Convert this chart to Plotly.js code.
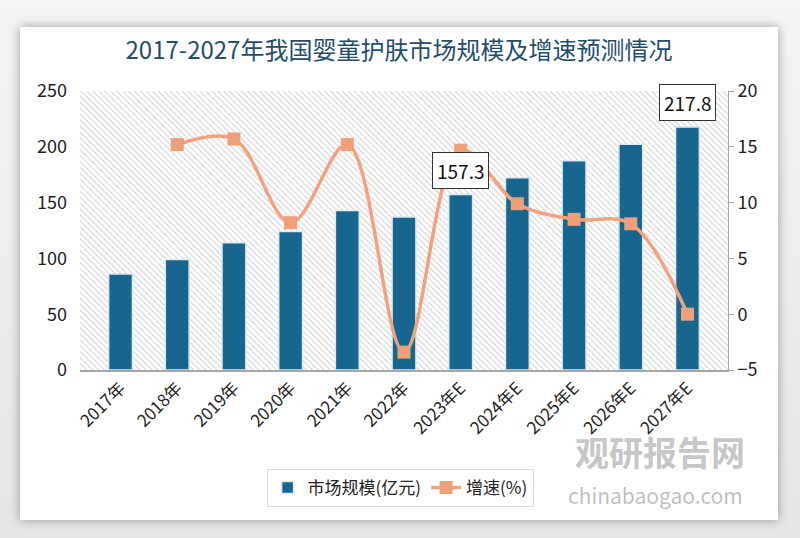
<!DOCTYPE html>
<html>
<head>
<meta charset="utf-8">
<script src="https://cdn.plot.ly/plotly-3.0.1.min.js"></script>
<style>
  html, body { margin:0; padding:0; width:800px; height:538px; overflow:hidden;
    background: linear-gradient(#f4f4f4, #e6e6e6); }
  #card { position:absolute; left:20px; top:27px; width:758px; height:493px;
    background:#fff; box-shadow: 0 0 10px rgba(0,0,0,0.35); }
  #chart { width:758px; height:493px; }
</style>
</head>
<body>
<div id="card"><div id="chart"></div></div>
<script>
const categories = ['2017年','2018年','2019年','2020年','2021年','2022年','2023年E','2024年E','2025年E','2026年E','2027年E'];
const marketSize = [86, 99, 114, 124, 143, 137, 157.3, 172.3, 187.6, 202.2, 217.8];
const growthRate = [null, 15.2, 15.7, 8.2, 15.2, -3.4, 14.7, 9.9, 8.5, 8.1, 0];
const labeledIdx = [6, 10];

const CJK = '"Noto Sans CJK SC", "Noto Sans", sans-serif';

const stripeSvg = '<svg xmlns="http://www.w3.org/2000/svg" width="648" height="279">' +
  '<defs><pattern id="p" width="4.2" height="4.2" patternUnits="userSpaceOnUse" patternTransform="rotate(-45)">' +
  '<rect width="4.2" height="4.2" fill="#ffffff"/><rect x="0" y="0" width="1.2" height="4.2" fill="#d8d8d8"/></pattern></defs>' +
  '<rect width="648" height="279" fill="url(#p)"/></svg>';
const stripeUri = 'data:image/svg+xml;charset=utf-8,' + encodeURIComponent(stripeSvg);

const traces = [
  {
    type: 'bar', name: '市场规模(亿元)', x: categories, y: marketSize,
    marker: { color: '#17668f', line: { color: '#dce9f0', width: 1.5 } },
    yaxis: 'y', hoverinfo: 'x+y'
  },
  {
    type: 'scatter', mode: 'lines+markers', name: '增速(%)', x: categories, y: growthRate,
    yaxis: 'y2', line: { color: '#f2a27e', width: 3.5, shape: 'spline', smoothing: 1 },
    marker: { symbol: 'square', size: 13, color: '#ef9f79' },
    connectgaps: false
  }
];

const annotations = labeledIdx.map(i => ({
  x: categories[i], y: marketSize[i], xref: 'x', yref: 'y',
  text: marketSize[i].toFixed(1), showarrow: false, yshift: 24, yanchor: 'middle',
  bgcolor: '#ffffff', bordercolor: '#333333', borderwidth: 1, borderpad: 4,
  font: { family: CJK, size: 19, color: '#111' }
}));
annotations.push(
  { xref: 'paper', yref: 'paper', x: 0.895, y: -0.292, xanchor: 'center', yanchor: 'middle',
    text: '<b>观研报告网</b>', showarrow: false,
    font: { family: CJK, size: 34, color: 'rgba(150,150,150,0.55)' } },
  { xref: 'paper', yref: 'paper', x: 0.888, y: -0.447, xanchor: 'center', yanchor: 'middle',
    text: 'chinabaogao.com', showarrow: false,
    font: { family: CJK, size: 21, color: 'rgba(150,150,150,0.6)' } }
);

const layout = {
  width: 758, height: 493,
  margin: { l: 60, r: 50, t: 64, b: 150 },
  paper_bgcolor: '#ffffff', plot_bgcolor: 'rgba(0,0,0,0)',
  title: { text: '2017-2027年我国婴童护肤市场规模及增速预测情况', x: 0.5, xanchor: 'center',
    y: 0.953, yanchor: 'middle', font: { family: CJK, size: 24, color: '#1f4e6e' } },
  font: { family: CJK, color: '#222' },
  bargap: 0.58,
  showlegend: true,
  legend: { orientation: 'h', x: 0.494, xanchor: 'center', y: -0.355, yanchor: 'top',
    bordercolor: '#d9d9d9', borderwidth: 1, bgcolor: '#ffffff',
    font: { family: CJK, size: 17, color: '#222' } },
  xaxis: { type: 'category', tickangle: -45, tickfont: { family: CJK, size: 17, color: '#222' },
    showline: true, linecolor: '#a6a6a6', linewidth: 1.5, ticks: '', showgrid: false, zeroline: false },
  yaxis: { range: [0, 250], dtick: 50, showgrid: false, zeroline: false, showline: false,
    ticks: '', ticklabelstandoff: 12, tickfont: { family: CJK, size: 18, color: '#222' } },
  yaxis2: { overlaying: 'y', side: 'right', range: [-5, 20], dtick: 5, showgrid: false, zeroline: false,
    showline: true, linecolor: '#a6a6a6', linewidth: 1, ticks: 'outside', ticklen: 5, tickcolor: '#a6a6a6',
    tickfont: { family: CJK, size: 18, color: '#222' } },
  images: [{ source: stripeUri, xref: 'paper', yref: 'paper', x: 0, y: 1, sizex: 1, sizey: 1,
    xanchor: 'left', yanchor: 'top', sizing: 'stretch', layer: 'below' }],
  annotations: annotations
};

Plotly.newPlot('chart', traces, layout, { displayModeBar: false, staticPlot: true });
</script>
</body>
</html>
